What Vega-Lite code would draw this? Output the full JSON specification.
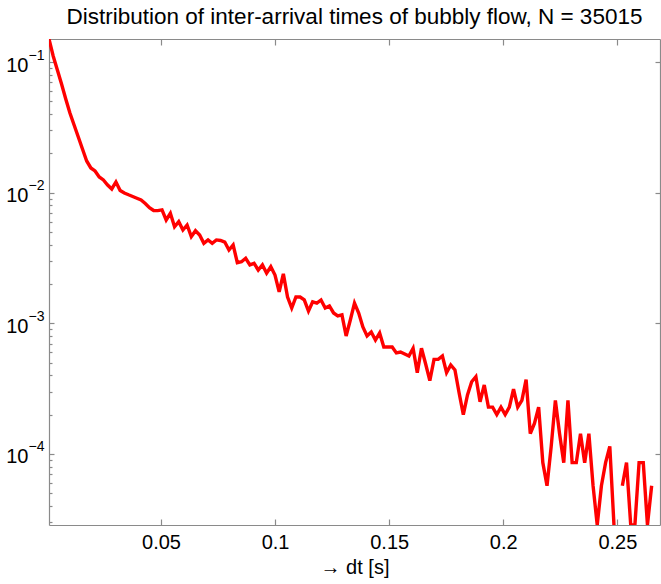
{
  "$schema": "https://vega.github.io/schema/vega-lite/v6.json",
  "width": 611,
  "height": 486,
  "autosize": "none",
  "padding": {"left": 49, "top": 39, "right": 1, "bottom": 59},
  "background": "white",
  "config": {
    "view": {"stroke": null},
    "font": "Liberation Sans",
    "axis": {"grid": false, "domainColor": "#8a8a8a", "tickColor": "#8a8a8a", "labelColor": "#000000", "labelFont": "Liberation Sans", "titleFont": "Liberation Sans", "domainWidth": 1.2, "tickWidth": 1.2, "titleColor": "#000000"}
  },
  "title": {"text": "Distribution of inter-arrival times of bubbly flow, N = 35015", "fontSize": 22.5, "fontWeight": "normal", "font": "Liberation Sans", "color": "#000000", "anchor": "middle", "offset": 10},
  "data": {"values": [
    {"x": 0.00092, "y": 0.1503}, {"x": 0.00275, "y": 0.1114}, {"x": 0.00459, "y": 0.0870}, {"x": 0.00642, "y": 0.0680},
    {"x": 0.00826, "y": 0.0522}, {"x": 0.01009, "y": 0.0408}, {"x": 0.01192, "y": 0.0330}, {"x": 0.01376, "y": 0.0267},
    {"x": 0.01559, "y": 0.0216}, {"x": 0.01743, "y": 0.0175}, {"x": 0.01926, "y": 0.01547}, {"x": 0.02109, "y": 0.01467},
    {"x": 0.02293, "y": 0.01319}, {"x": 0.02476, "y": 0.01252}, {"x": 0.02660, "y": 0.01146}, {"x": 0.02843, "y": 0.01068},
    {"x": 0.03026, "y": 0.01208}, {"x": 0.03210, "y": 0.01040}, {"x": 0.03393, "y": 0.00995}, {"x": 0.03577, "y": 0.00964},
    {"x": 0.03760, "y": 0.00936}, {"x": 0.03943, "y": 0.00907}, {"x": 0.04127, "y": 0.00880}, {"x": 0.04310, "y": 0.00827},
    {"x": 0.04494, "y": 0.00768}, {"x": 0.04677, "y": 0.00731}, {"x": 0.04860, "y": 0.00729}, {"x": 0.05044, "y": 0.00738},
    {"x": 0.05227, "y": 0.00618}, {"x": 0.05411, "y": 0.00696}, {"x": 0.05594, "y": 0.00549}, {"x": 0.05777, "y": 0.00600},
    {"x": 0.05961, "y": 0.00518}, {"x": 0.06144, "y": 0.00566}, {"x": 0.06328, "y": 0.00461}, {"x": 0.06511, "y": 0.00512},
    {"x": 0.06694, "y": 0.00475}, {"x": 0.06878, "y": 0.00410}, {"x": 0.07061, "y": 0.00435}, {"x": 0.07245, "y": 0.00410},
    {"x": 0.07428, "y": 0.00435}, {"x": 0.07611, "y": 0.00431}, {"x": 0.07795, "y": 0.00419}, {"x": 0.07978, "y": 0.00364},
    {"x": 0.08162, "y": 0.00398}, {"x": 0.08345, "y": 0.00291}, {"x": 0.08528, "y": 0.00296}, {"x": 0.08712, "y": 0.00315},
    {"x": 0.08895, "y": 0.00280}, {"x": 0.09079, "y": 0.00288}, {"x": 0.09262, "y": 0.00256}, {"x": 0.09445, "y": 0.00280},
    {"x": 0.09629, "y": 0.00242}, {"x": 0.09812, "y": 0.00271}, {"x": 0.09996, "y": 0.00234}, {"x": 0.10179, "y": 0.00174},
    {"x": 0.10362, "y": 0.00239}, {"x": 0.10546, "y": 0.00159}, {"x": 0.10729, "y": 0.00131}, {"x": 0.10913, "y": 0.00159},
    {"x": 0.11096, "y": 0.00159}, {"x": 0.11279, "y": 0.00151}, {"x": 0.11463, "y": 0.00124}, {"x": 0.11646, "y": 0.00146},
    {"x": 0.11830, "y": 0.00143}, {"x": 0.12013, "y": 0.00151}, {"x": 0.12196, "y": 0.00131}, {"x": 0.12380, "y": 0.00136},
    {"x": 0.12563, "y": 0.00120}, {"x": 0.12747, "y": 0.00114}, {"x": 0.12930, "y": 0.00116}, {"x": 0.13113, "y": 0.000800},
    {"x": 0.13297, "y": 0.00106}, {"x": 0.13480, "y": 0.00143}, {"x": 0.13664, "y": 0.00120}, {"x": 0.13847, "y": 0.000937},
    {"x": 0.14030, "y": 0.000800}, {"x": 0.14214, "y": 0.000858}, {"x": 0.14397, "y": 0.000745}, {"x": 0.14581, "y": 0.000843},
    {"x": 0.14764, "y": 0.000659}, {"x": 0.14947, "y": 0.000659}, {"x": 0.15131, "y": 0.000659}, {"x": 0.15314, "y": 0.000593},
    {"x": 0.15498, "y": 0.000603}, {"x": 0.15681, "y": 0.000582}, {"x": 0.15864, "y": 0.000562}, {"x": 0.16048, "y": 0.000644},
    {"x": 0.16231, "y": 0.000419}, {"x": 0.16415, "y": 0.000644}, {"x": 0.16598, "y": 0.000488}, {"x": 0.16781, "y": 0.000364},
    {"x": 0.16965, "y": 0.000530}, {"x": 0.17148, "y": 0.000530}, {"x": 0.17332, "y": 0.000562}, {"x": 0.17515, "y": 0.000419},
    {"x": 0.17698, "y": 0.000480}, {"x": 0.17882, "y": 0.000439}, {"x": 0.18065, "y": 0.000293}, {"x": 0.18249, "y": 0.000200},
    {"x": 0.18432, "y": 0.000283}, {"x": 0.18615, "y": 0.000357}, {"x": 0.18799, "y": 0.000390}, {"x": 0.18982, "y": 0.000251},
    {"x": 0.19166, "y": 0.000337}, {"x": 0.19349, "y": 0.000228}, {"x": 0.19532, "y": 0.000228}, {"x": 0.19716, "y": 0.000200},
    {"x": 0.19899, "y": 0.000228}, {"x": 0.20083, "y": 0.000200}, {"x": 0.20266, "y": 0.000228}, {"x": 0.20449, "y": 0.000314},
    {"x": 0.20633, "y": 0.000228}, {"x": 0.20816, "y": 0.000257}, {"x": 0.21000, "y": 0.000371}, {"x": 0.21183, "y": 0.0001428},
    {"x": 0.21366, "y": 0.0001714}, {"x": 0.21550, "y": 0.0002285}, {"x": 0.21733, "y": 0.0000857}, {"x": 0.21917, "y": 0.0000571},
    {"x": 0.22100, "y": 0.0001142}, {"x": 0.22283, "y": 0.000257}, {"x": 0.22467, "y": 0.0001428}, {"x": 0.22650, "y": 0.0000857},
    {"x": 0.22834, "y": 0.000257}, {"x": 0.23017, "y": 0.0000857}, {"x": 0.23200, "y": 0.0000857}, {"x": 0.23384, "y": 0.0001428},
    {"x": 0.23567, "y": 0.0000857}, {"x": 0.23751, "y": 0.0001428}, {"x": 0.23934, "y": 0.0000571}, {"x": 0.24117, "y": 0.00002856},
    {"x": 0.24301, "y": 0.0000571}, {"x": 0.24484, "y": 0.0000857}, {"x": 0.24668, "y": 0.0001142}, {"x": 0.24851, "y": 0.00002856},
    {"x": 0.25034, "y": null}, {"x": 0.25218, "y": 0.0000571}, {"x": 0.25401, "y": 0.0000857}, {"x": 0.25585, "y": 0.00002856},
    {"x": 0.25768, "y": 0.00002856}, {"x": 0.25951, "y": 0.0000857}, {"x": 0.26135, "y": 0.0000857}, {"x": 0.26318, "y": 0.00002856},
    {"x": 0.26502, "y": 0.0000571}
  ]},
  "layer": [
    {
      "mark": {"type": "line", "color": "#ff0000", "strokeWidth": 3.4, "clip": true, "invalid": "break-paths-filter-domains"},
      "encoding": {
        "x": {"field": "x", "type": "quantitative", "scale": {"domain": [0.00092, 0.26868], "nice": false, "zero": false},
              "axis": {"orient": "bottom", "values": [0.05, 0.1, 0.15, 0.2, 0.25], "format": "~g", "ticks": false, "domain": true, "labelFontSize": 20, "labelPadding": 7, "labelFlush": false, "title": "→ dt [s]", "titleFontSize": 20, "titleFontWeight": "normal", "titlePadding": 5}},
        "y": {"field": "y", "type": "quantitative", "scale": {"type": "log", "domain": [0.00002856, 0.1503], "nice": false},
              "axis": {"orient": "left", "values": [0.0001, 0.001, 0.01, 0.1], "labelExpr": "'10'", "ticks": false, "domain": true, "labelFontSize": 20, "labelPadding": 21, "labelOffset": 3, "labelFlush": false, "title": null}}
      }
    },
    {
      "mark": {"type": "line", "strokeOpacity": 0, "invalid": "break-paths-filter-domains"},
      "encoding": {
        "x": {"field": "x", "type": "quantitative", "scale": {"domain": [0.00092, 0.26868], "nice": false, "zero": false},
              "axis": {"orient": "bottom", "values": [0.05, 0.1, 0.15, 0.2, 0.25], "labels": false, "domain": false, "tickSize": -6, "title": null}},
        "y": {"field": "y", "type": "quantitative", "scale": {"type": "log", "domain": [0.00002856, 0.1503], "nice": false},
              "axis": {"orient": "left", "values": [0.0001, 0.001, 0.01, 0.1], "labels": false, "domain": false, "tickSize": -5, "title": null}}
      }
    },
    {
      "mark": {"type": "line", "strokeOpacity": 0, "invalid": "break-paths-filter-domains"},
      "encoding": {
        "x": {"field": "x", "type": "quantitative", "scale": {"domain": [0.00092, 0.26868], "nice": false, "zero": false},
              "axis": {"orient": "top", "values": [0.05, 0.1, 0.15, 0.2, 0.25], "labels": false, "domain": true, "tickSize": -6, "title": null}},
        "y": {"field": "y", "type": "quantitative", "scale": {"type": "log", "domain": [0.00002856, 0.1503], "nice": false},
              "axis": {"orient": "right", "values": [0.0001, 0.001, 0.01, 0.1], "labels": false, "domain": true, "tickSize": -5, "title": null}}
      }
    },
    {
      "mark": {"type": "line", "strokeOpacity": 0, "invalid": "break-paths-filter-domains"},
      "encoding": {
        "x": {"field": "x", "type": "quantitative", "scale": {"domain": [0.00092, 0.26868], "nice": false, "zero": false}, "axis": null},
        "y": {"field": "y", "type": "quantitative", "scale": {"type": "log", "domain": [0.00002856, 0.1503], "nice": false},
              "axis": {"orient": "left", "values": [0.0001, 0.001, 0.01, 0.1], "labelExpr": "datum.value > 0.05 ? '−1' : datum.value > 0.005 ? '−2' : datum.value > 0.0005 ? '−3' : '−4'", "ticks": false, "domain": false, "labelFontSize": 14, "labelPadding": 5, "labelOffset": -7, "labelFlush": false, "title": null}}
      }
    },
    {
      "mark": {"type": "line", "strokeOpacity": 0, "invalid": "break-paths-filter-domains"},
      "encoding": {
        "x": {"field": "x", "type": "quantitative", "scale": {"domain": [0.00092, 0.26868], "nice": false, "zero": false}, "axis": null},
        "y": {"field": "y", "type": "quantitative", "scale": {"type": "log", "domain": [0.00002856, 0.1503], "nice": false},
              "axis": {"orient": "left", "values": [0.00003, 0.00004, 0.00005, 0.00006, 0.00007, 0.00008, 0.00009, 0.0002, 0.0003, 0.0004, 0.0005, 0.0006, 0.0007, 0.0008, 0.0009, 0.002, 0.003, 0.004, 0.005, 0.006, 0.007, 0.008, 0.009, 0.02, 0.03, 0.04, 0.05, 0.06, 0.07, 0.08, 0.09], "labels": false, "domain": false, "tickSize": -3, "title": null}}
      }
    }
  ],
  "resolve": {"axis": {"x": "independent", "y": "independent"}}
}
